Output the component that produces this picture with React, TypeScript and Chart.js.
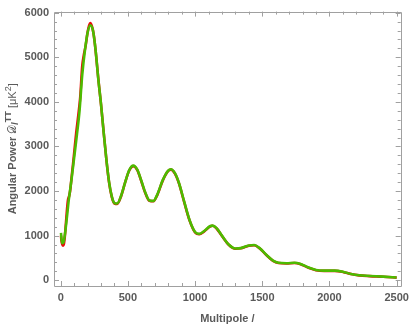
import React, { useEffect, useRef } from "react";
import { Chart, registerables } from "chart.js";
Chart.register(...registerables);

// Smooth fit curve (green)
const fitL = [2, 10, 20, 30, 45, 60, 80, 100, 120, 140, 160, 180, 200, 220, 240, 260, 280, 300, 320, 340, 360, 380, 400, 420, 450, 480, 510, 540, 570, 600, 630, 660, 690, 720, 760, 800, 820, 850, 880, 920, 960, 1000, 1030, 1070, 1110, 1130, 1160, 1200, 1250, 1300, 1340, 1400, 1440, 1480, 1530, 1580, 1620, 1680, 1740, 1780, 1840, 1900, 1960, 2040, 2100, 2160, 2220, 2300, 2400, 2500];
const fitV = [1060, 830, 850, 1000, 1380, 1800, 2250, 2750, 3250, 3800, 4600, 5150, 5550, 5720, 5600, 5150, 4500, 3950, 3300, 2700, 2200, 1880, 1730, 1720, 1900, 2200, 2470, 2570, 2480, 2230, 1960, 1790, 1780, 1930, 2250, 2460, 2490, 2400, 2180, 1750, 1340, 1080, 1040, 1110, 1210, 1225, 1170, 1000, 800, 710, 720, 780, 790, 720, 570, 440, 390, 380, 390, 370, 290, 230, 215, 215, 190, 140, 110, 95, 80, 60];

// Measured spectrum (red)
const dataL = [2, 6, 12, 18, 24, 30, 38, 46, 54, 62, 70, 80, 90, 100, 115, 130, 145, 160, 172, 185, 200, 212, 220, 232, 245, 260, 280, 300, 320, 340, 360, 380, 400, 420, 450, 480, 510, 540, 570, 600, 630, 660, 690, 720, 760, 800, 820, 850, 880, 920, 960, 1000, 1030, 1070, 1110, 1130, 1160, 1200, 1250, 1300, 1340, 1400, 1440, 1480, 1530, 1580, 1620, 1680, 1740, 1780, 1840, 1900, 1960, 2040, 2100, 2160, 2220, 2300, 2400, 2500];
const dataV = [1000, 880, 800, 775, 820, 960, 1250, 1560, 1800, 1880, 2000, 2280, 2560, 2850, 3300, 3680, 4100, 4800, 5050, 5250, 5560, 5720, 5770, 5700, 5520, 5140, 4510, 3940, 3310, 2700, 2190, 1870, 1720, 1710, 1890, 2200, 2460, 2560, 2470, 2220, 1950, 1780, 1770, 1920, 2240, 2450, 2480, 2390, 2170, 1740, 1330, 1070, 1030, 1100, 1200, 1220, 1160, 990, 795, 705, 715, 775, 785, 715, 565, 435, 385, 375, 385, 365, 285, 225, 210, 210, 185, 138, 108, 92, 78, 58];

const xTicks = [0, 500, 1000, 1500, 2000, 2500];
const yTicks = [0, 1000, 2000, 3000, 4000, 5000, 6000];

const X_MIN = -50;
const X_MAX = 2530;
const Y_MIN = -130;
const Y_MAX = 6025;

const FRAME = "#a0a0a0";
const LABEL = "#5a5a5a";
const FONT = "'Liberation Sans', Arial, sans-serif";

const framePlugin = {
  id: "frame",
  afterDraw(chart: any) {
    const { ctx, chartArea: a, scales } = chart;
    const xs = scales.x;
    const ys = scales.y;
    ctx.save();
    ctx.strokeStyle = FRAME;
    ctx.lineWidth = 1;
    ctx.beginPath();
    ctx.rect(Math.round(a.left) + 0.5, Math.round(a.top) + 0.5, Math.round(a.right - a.left), Math.round(a.bottom - a.top));
    ctx.stroke();
    ctx.beginPath();
    for (let v = 0; v <= 2500; v += 100) {
      const px = Math.round(xs.getPixelForValue(v)) + 0.5;
      const len = v % 500 === 0 ? 5 : 3;
      ctx.moveTo(px, a.bottom);
      ctx.lineTo(px, a.bottom - len);
      ctx.moveTo(px, a.top);
      ctx.lineTo(px, a.top + len);
    }
    for (let v = 0; v <= 6000; v += 200) {
      const py = Math.round(ys.getPixelForValue(v)) + 0.5;
      const len = v % 1000 === 0 ? 5 : 3;
      ctx.moveTo(a.left, py);
      ctx.lineTo(a.left + len, py);
      ctx.moveTo(a.right, py);
      ctx.lineTo(a.right - len, py);
    }
    ctx.stroke();

    // x title
    ctx.fillStyle = LABEL;
    ctx.font = `bold 11px ${FONT}`;
    ctx.textAlign = "center";
    ctx.textBaseline = "alphabetic";
    ctx.fillText("Multipole /", (a.left + a.right) / 2, 322);

    // y title (rotated)
    ctx.translate(16, (a.top + a.bottom) / 2);
    ctx.rotate(-Math.PI / 2);
    const parts: [string, string, number][] = [
      ["Angular Power ", `bold 11px ${FONT}`, 0],
      ["\u{1D49F}", `11px 'DejaVu Sans', serif`, 0],
      ["/", `bold 9px ${FONT}`, 2],
      ["TT", `bold 9px ${FONT}`, -5],
      [" [\u03BCK", `11px ${FONT}`, 0],
      ["2", `9px ${FONT}`, -5],
      ["]", `11px ${FONT}`, 0],
    ];
    let total = 0;
    for (const [t, f] of parts) {
      ctx.font = f;
      total += ctx.measureText(t).width;
    }
    let x = -total / 2;
    ctx.textAlign = "left";
    for (const [t, f, dy] of parts) {
      ctx.font = f;
      ctx.fillText(t, x, dy);
      x += ctx.measureText(t).width;
    }
    ctx.restore();
  },
};

export default function App() {
  const ref = useRef<HTMLCanvasElement>(null);
  useEffect(() => {
    document.body.style.margin = "0";
    const chart = new Chart(ref.current as HTMLCanvasElement, {
      type: "line",
      data: {
        datasets: [
          {
            label: "fit",
            data: fitL.map((l, i) => ({ x: l, y: fitV[i] })),
            borderColor: "rgb(76,187,0)",
            borderWidth: 2.6,
            pointRadius: 0,
            cubicInterpolationMode: "monotone",
            order: 0,
          },
          {
            label: "data",
            data: dataL.map((l, i) => ({ x: l, y: dataV[i] })),
            borderColor: "rgb(235,10,10)",
            borderWidth: 2.6,
            pointRadius: 0,
            cubicInterpolationMode: "monotone",
            order: 1,
          },
        ],
      },
      options: {
        animation: false,
        responsive: false,
        maintainAspectRatio: false,
        layout: { padding: { top: 5, right: 10, left: 0, bottom: 0 } },
        plugins: { legend: { display: false }, tooltip: { enabled: false } },
        scales: {
          x: {
            type: "linear",
            min: X_MIN,
            max: X_MAX,
            grid: { display: false, drawTicks: false },
            border: { display: false },
            afterBuildTicks: (s: any) => {
              s.ticks = xTicks.map((v) => ({ value: v }));
            },
            afterFit: (s: any) => {
              s.height = 42;
            },
            ticks: {
              padding: 5,
              maxRotation: 0,
              color: LABEL,
              font: { family: FONT, size: 11, weight: "bold" },
              callback: (v: any) => String(v),
            },
          },
          y: {
            type: "linear",
            min: Y_MIN,
            max: Y_MAX,
            grid: { display: false, drawTicks: false },
            border: { display: false },
            afterBuildTicks: (s: any) => {
              s.ticks = yTicks.map((v) => ({ value: v }));
            },
            afterFit: (s: any) => {
              s.width = 54;
            },
            ticks: {
              padding: 5,
              color: LABEL,
              font: { family: FONT, size: 11, weight: "bold" },
              callback: (v: any) => String(v),
            },
          },
        },
      },
      plugins: [framePlugin],
    } as any);
    return () => chart.destroy();
  }, []);
  return (
    <div style={{ position: "absolute", left: 0, top: 0, width: 414, height: 328, background: "#fff" }}>
      <canvas ref={ref} width={414} height={328} style={{ width: 414, height: 328 }} />
    </div>
  );
}
